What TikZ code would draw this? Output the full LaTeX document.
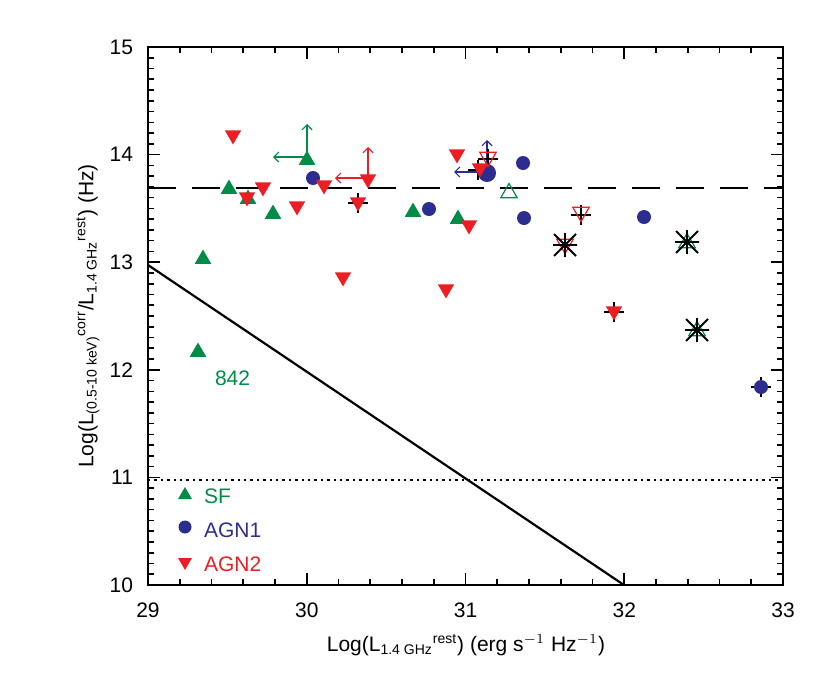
\documentclass[tikz,border=0pt]{standalone}
\usepackage{fontspec}
\setmainfont{Liberation Sans}
\usetikzlibrary{shapes.geometric,arrows.meta}
\definecolor{gr}{RGB}{0,140,70}
\definecolor{bl}{RGB}{45,45,145}
\definecolor{rd}{RGB}{235,30,35}
\newcommand{\sbx}[1]{$_{\mbox{\fontsize{7}{8}\selectfont #1}}$}
\newcommand{\spx}[1]{$^{\mbox{\fontsize{7}{8}\selectfont #1}}$}
\tikzset{
 tu/.style={regular polygon,regular polygon sides=3,minimum size=9.5,inner sep=0,fill=gr},
 td/.style={regular polygon,regular polygon sides=3,shape border rotate=180,minimum size=9.5,inner sep=0,fill=rd},
 ci/.style={circle,minimum size=7,inner sep=0,fill=bl},
 lim/.style={-{Straight Barb[length=2.5,width=5]},line width=0.6},
 tk/.style={line width=0.8},
 lab/.style={font=\fontsize{10.5}{12}\selectfont}
}
\newcommand{\ecross}[2]{\draw[line width=0.9] (#1-10,#2)--(#1+10,#2) (#1,#2-10)--(#1,#2+10);}
\newcommand{\astk}[2]{\draw[line width=0.9] (#1-12,#2)--(#1+12,#2) (#1,#2-12)--(#1,#2+12) (#1-11,#2-11)--(#1+11,#2+11) (#1-11,#2+11)--(#1+11,#2-11);}
\begin{document}
\begin{tikzpicture}[x=0.5pt,y=-0.5pt]
\useasboundingbox (0,0) rectangle (830,691);
% frame
\draw[line width=1.2] (148,47) rectangle (783,585);
% x ticks
\foreach \i in {0,...,20}{
 \pgfmathsetmacro\xx{148+\i*31.75}
 \pgfmathsetmacro\len{mod(\i,5)==0?12:6}
 \draw[tk] (\xx,585)--(\xx,585-\len) (\xx,47)--(\xx,47+\len);}
\foreach \v/\i in {29/0,30/1,31/2,32/3,33/4}{
 \node[lab] (xl\v) at (148+\i*158.75,610) {\v};}
% y ticks
\foreach \i in {0,...,50}{
 \pgfmathsetmacro\yy{585-\i*10.76}
 \pgfmathsetmacro\len{mod(\i,10)==0?12:6}
 \draw[tk] (148,\yy)--(148+\len,\yy) (783,\yy)--(783-\len,\yy);}
\foreach \v/\i in {10/0,11/1,12/2,13/3,14/4,15/5}{
 \node[lab,anchor=east] (yl\v) at (140,585-\i*107.6) {\v};}
% axis titles
\node[lab] (xt) at (466,645) {Log(L\sbx{1.4 GHz}\spx{rest}) (erg s$^{-1}$ Hz$^{-1}$)};
\node[lab,rotate=90] (yt) at (88,316) {Log(L\sbx{(0.5-10 keV)}\spx{corr}/L\sbx{1.4 GHz}\spx{rest}) (Hz)};
% lines
\draw[line width=1.2,dash pattern=on 14 off 8] (148,188)--(783,188);
\draw[line width=1.2,dotted] (148,480)--(783,480);
\draw[line width=1.1] (148,265)--(624,585);
% limits
\draw[lim,gr] (307,157)--(273,157);
\draw[lim,gr] (307,157)--(307,124);
\draw[lim,rd] (368,178)--(335,178);
\draw[lim,rd] (368,178)--(368,147);
\draw[lim,bl] (487,172)--(454,172);
\draw[lim,bl] (487,172)--(487,140);
% error crosses
\ecross{358}{203}
\ecross{488}{159}
\ecross{478}{170}
\ecross{581}{215}
\ecross{614}{312}
\ecross{761}{387}
% green
\foreach \p in {(203,259),(229,189),(248,199),(273,214),(413,212),(458,219),(198,352),(307,160)}
 \node[tu] at \p {};
\node[tu,fill=none,draw=gr,line width=0.6] at (509,193) {};
\node[tu,fill=none,draw=gr,line width=0.6] at (687,243) {};
\node[tu,fill=none,draw=gr,line width=0.6] at (697,331) {};
% blue
\foreach \p in {(313,178),(429,209),(523,163),(524,218),(644,217),(761,387)}
 \node[ci] at \p {};
\node[ci,minimum size=9] at (487,173) {};
% red
\foreach \p in {(233,135),(247,197),(263,187),(297,206),(324,185),(368,179),(358,202),(343,277),(446,289),(457,154),(469,225),(480,168),(614,311)}
 \node[td] at \p {};
\node[td,fill=none,draw=rd,line width=0.6] at (488,157) {};
\node[td,fill=none,draw=rd,line width=0.6] at (581,212) {};
\node[td,fill=none,draw=rd,line width=0.6] at (565,244) {};
% asterisks
\astk{565}{245}
\astk{687}{242}
\astk{697}{330}
% label 842
\node[lab,text=gr,anchor=west] (l842) at (208,378) {842};
% legend
\node[tu,minimum size=8] (lsf) at (185,495) {};
\node[lab,text=gr,anchor=west] (tsf) at (197,496) {SF};
\node[ci,minimum size=6.5] (la1) at (185,527) {};
\node[lab,text=bl,anchor=west] (ta1) at (197,530) {AGN1};
\node[td,minimum size=8] (la2) at (185,562) {};
\node[lab,text=rd,anchor=west] (ta2) at (197,564) {AGN2};
\end{tikzpicture}
\end{document}
